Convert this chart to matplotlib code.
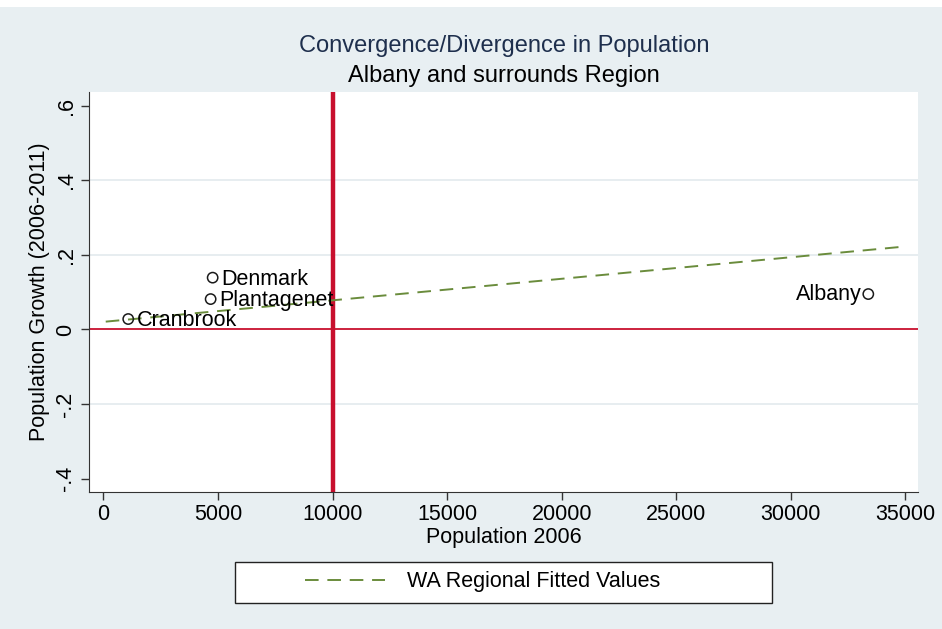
import matplotlib
matplotlib.use('Agg')
import matplotlib.pyplot as plt
from matplotlib.patches import Rectangle
from matplotlib.ticker import FuncFormatter

plt.rcParams['font.family'] = ['Liberation Sans', 'DejaVu Sans']

# data
towns = ['Cranbrook', 'Denmark', 'Plantagenet', 'Albany']
pop_2006 = [1082, 4766, 4678, 33377]
growth = [0.028, 0.139, 0.0815, 0.095]
label_side = ['right', 'right', 'right', 'left']

fit_x = [100, 34890]
fit_y = [0.021, 0.222]

x_ticks = [0, 5000, 10000, 15000, 20000, 25000, 30000, 35000]
y_ticks = [-0.4, -0.2, 0, 0.2, 0.4, 0.6]
grid_y = [-0.2, 0.2, 0.4]
cutoff = 10000

bg = '#e8eff2'
red = '#c8102e'
green = '#6a8c3c'
fs = 15.5

W, H = 942, 629
fig = plt.figure(figsize=(W / 100, H / 100), dpi=100)
fig.patch.set_facecolor(bg)
# thin white strip at the very top
fig.patches.append(Rectangle((0, 1 - 7 / H), 1, 7 / H, transform=fig.transFigure,
                             facecolor='white', edgecolor='none', zorder=0))

ax = fig.add_axes([89 / W, 1 - 492 / H, (918 - 89) / W, (492 - 92) / H])
ax.set_facecolor('white')
ax.set_xlim(-630, 35546)
ax.set_ylim(-0.436, 0.637)

for g in grid_y:
    ax.axhline(g, color='#e3eaee', lw=1.2, zorder=1)

ax.axhline(0, color=red, lw=1.3, zorder=2)
ax.axvline(cutoff, color=red, lw=3.2, zorder=2)

ax.plot(fit_x, fit_y, color=green, lw=1.4, dashes=(7, 4.5), zorder=3,
        label='WA Regional Fitted Values')
ax.scatter(pop_2006, growth, s=55, facecolors='none', edgecolors='#1a1a1a',
           linewidths=1.1, zorder=4)

for name, x, y, side in zip(towns, pop_2006, growth, label_side):
    if side == 'right':
        ax.annotate(name, (x, y), xytext=(6, -1), textcoords='offset points',
                    ha='left', va='center', fontsize=fs, zorder=5)
    else:
        ax.annotate(name, (x, y), xytext=(-5, 0), textcoords='offset points',
                    ha='right', va='center', fontsize=fs, zorder=5)

ax.set_xticks(x_ticks)
ax.set_yticks(y_ticks)
ax.yaxis.set_major_formatter(FuncFormatter(
    lambda v, p: '0' if abs(v) < 1e-9 else ('%.1f' % v).replace('0.', '.')))
ax.tick_params(axis='both', labelsize=fs, length=6, width=1, color='#333333',
               direction='out', pad=3)
for lab in ax.get_yticklabels():
    lab.set_rotation(90)
    lab.set_va('center')
ax.spines['top'].set_visible(False)
ax.spines['right'].set_visible(False)
ax.spines['left'].set_color('#333333')
ax.spines['bottom'].set_color('#333333')
ax.set_xlabel('Population 2006', fontsize=fs, labelpad=1)
ax.set_ylabel('Population Growth (2006-2011)', fontsize=fs, labelpad=4)

fig.text(504 / W, 1 - 46 / H, 'Convergence/Divergence in Population',
         ha='center', va='center', fontsize=17, color='#1e2f4d')
fig.text(504 / W, 1 - 76 / H, 'Albany and surrounds Region',
         ha='center', va='center', fontsize=17, color='black')

# legend box
fig.patches.append(Rectangle((235 / W, 1 - 603 / H), (772 - 235) / W, (603 - 562) / H,
                             transform=fig.transFigure, facecolor='white',
                             edgecolor='#222222', lw=1.0, zorder=1))
handles, labels = ax.get_legend_handles_labels()
fig.legend(handles, labels, loc='center left', bbox_to_anchor=(286 / W, 1 - 582 / H),
           frameon=False, fontsize=fs, handlelength=3.7, handletextpad=1.0)

fig.savefig('out.png', dpi=100, facecolor=bg)
